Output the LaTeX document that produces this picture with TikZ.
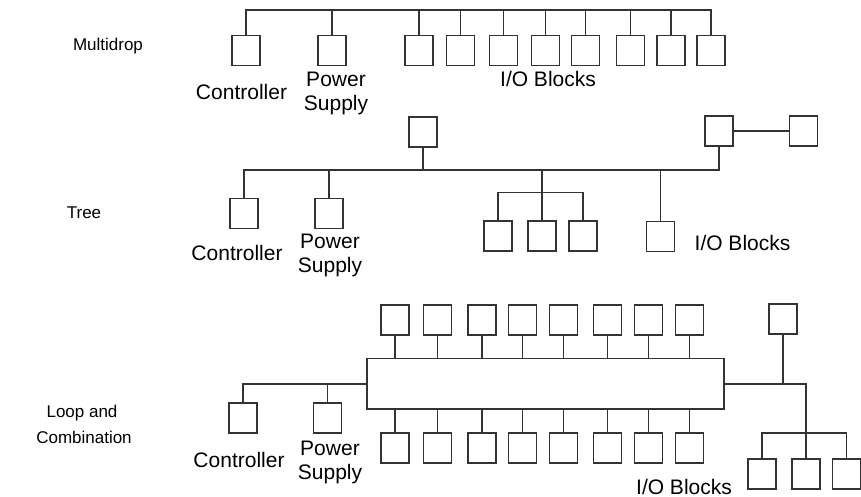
\documentclass[tikz,border=0pt]{standalone}
\usepackage{fontspec}
\setmainfont{Liberation Sans}
\begin{document}
\begin{tikzpicture}[x=1pt,y=-1pt,
  blk/.style={draw=black!80, line width=1.6pt, minimum width=28pt, minimum height=30pt, inner sep=0pt},
  hub/.style={draw=black!80, line width=1.6pt, minimum width=357pt, minimum height=50.5pt, inner sep=0pt},
  wire/.style={draw=black!80, line width=1.6pt},
  lbl/.style={font=\fontsize{21}{24}\selectfont, anchor=base, inner sep=0pt},
  side/.style={font=\fontsize{17}{20}\selectfont, anchor=base, inner sep=0pt}]
\useasboundingbox (0,0) rectangle (861,497);

% ---------------- Multidrop ----------------
\node[side] (lmd) at (108,51) {Multidrop};
\foreach \i/\x in {1/246,2/332,3/419,4/460.5,5/503.5,6/545.5,7/585.5,8/630.5,9/671,10/711}
  \node[blk] (m\i) at (\x,50.7) {};
\coordinate (mbus) at (0,10);
\draw[wire] (m1.north) |- (mbus -| m10.north) -- (m10.north);
\foreach \i in {2,...,9}
  \draw[wire] (m\i.north) -- (mbus -| m\i.north);
\node[lbl] (mctl) at (241.5,100) {Controller};
\node[lbl] (mpw1) at (336,86.7) {Power};
\node[lbl] (mpw2) at (336,110.7) {Supply};
\node[lbl] (mio) at (548,87) {I/O Blocks};

% ---------------- Tree ----------------
\node[side] (ltr) at (84,218) {Tree};
\node[blk] (t0) at (423,132) {};
\node[blk] (tc) at (244,213.3) {};
\node[blk] (tp) at (329,213.3) {};
\node[blk] (ts1) at (497.7,236) {};
\node[blk] (ts2) at (541.7,236) {};
\node[blk] (ts3) at (582.7,236) {};
\node[blk] (t4) at (660.3,236.3) {};
\node[blk] (tr) at (718.7,131) {};
\node[blk] (tr2) at (803.3,131) {};
\coordinate (tbus) at (0,170);
\coordinate (tsub) at (0,192.3);
\draw[wire] (tc.north) |- (tbus -| tr.south) -- (tr.south);
\draw[wire] (tp.north) -- (tbus -| tp.north);
\draw[wire] (t0.south) -- (tbus -| t0.south);
\draw[wire] (t4.north) -- (tbus -| t4.north);
\draw[wire] (ts2.north) -- (tbus -| ts2.north);
\draw[wire] (ts1.north) |- (tsub -| ts3.north) -- (ts3.north);
\draw[wire] (tr.east) -- (tr2.west);
\node[lbl] (tctl) at (237,260) {Controller};
\node[lbl] (tpw1) at (330,248.3) {Power};
\node[lbl] (tpw2) at (330,272.7) {Supply};
\node[lbl] (tio) at (742.5,250) {I/O Blocks};

% ---------------- Loop and Combination ----------------
\node[side] (llp1) at (82,417) {Loop and};
\node[side] (llp2) at (84,443) {Combination};
\node[hub] (h) at (545.5,383.75) {};
\foreach \i/\x in {1/395,2/437.5,3/481.7,4/522.5,5/563.5,6/607.5,7/648.5,8/689.3}{
  \node[blk] (u\i) at (\x,319.7) {};
  \node[blk] (d\i) at (\x,447.7) {};
  \draw[wire] (u\i.south) -- (h.north -| u\i.south);
  \draw[wire] (d\i.north) -- (h.south -| d\i.north);
}
\node[blk] (lc) at (242.7,417.7) {};
\node[blk] (lp) at (327.5,417.7) {};
\draw[wire] (lc.north) |- (h.west);
\draw[wire] (lp.north) -- (lp.north |- h.west);
\node[blk] (rt) at (783,319) {};
\node[blk] (rb1) at (762,474) {};
\node[blk] (rb2) at (806,474) {};
\node[blk] (rb3) at (846.5,474) {};
\coordinate (rsub) at (0,432.7);
\draw[wire] (h.east) -| (rb2.north);
\draw[wire] (rt.south) -- (rt.south |- h.east);
\draw[wire] (rb1.north) |- (rsub -| rb3.north) -- (rb3.north);
\node[lbl] (lctl) at (239,467) {Controller};
\node[lbl] (lpw1) at (330,455.7) {Power};
\node[lbl] (lpw2) at (330,479.3) {Supply};
\node[lbl] (lio) at (684,494) {I/O Blocks};
\end{tikzpicture}
\end{document}
